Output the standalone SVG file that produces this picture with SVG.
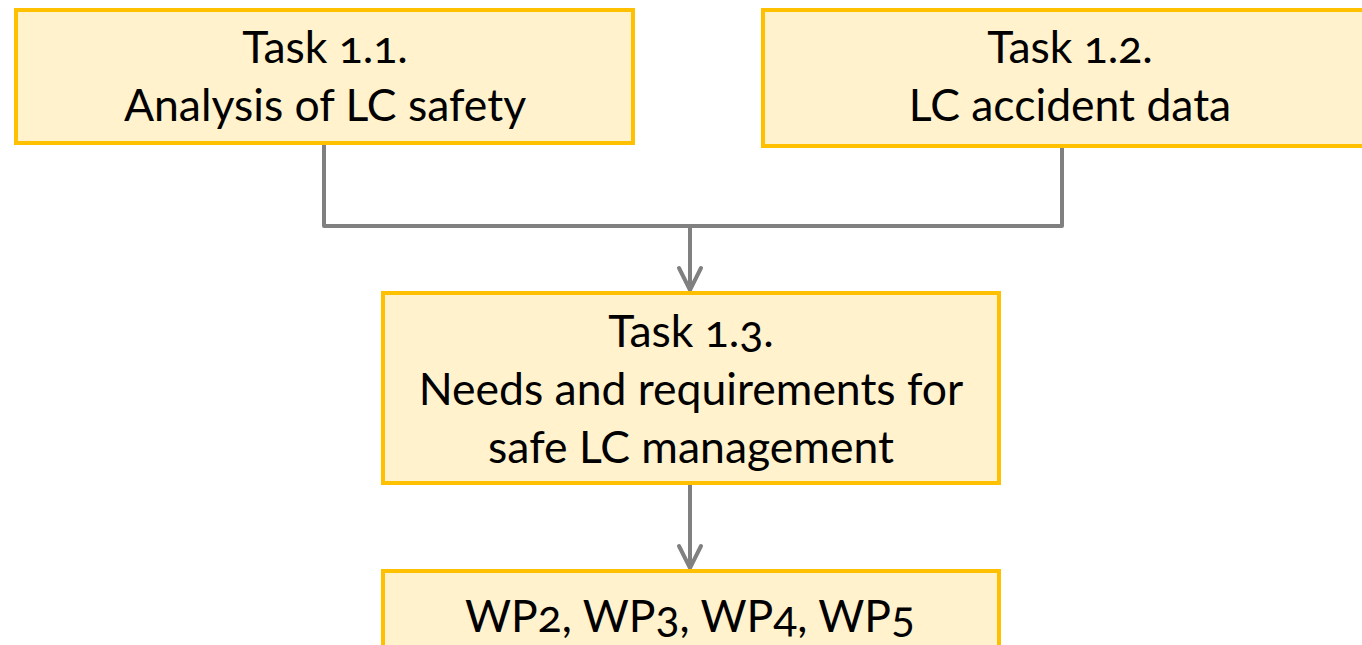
<svg xmlns="http://www.w3.org/2000/svg" width="1362" height="645" viewBox="0 0 1362 645">
<style>
.box{fill:#FFF2CC;stroke:#FFC000;stroke-width:4}
.t{font-family:Lato,"Open Sans","Liberation Sans",sans-serif;font-size:44.5px;fill:#000;text-anchor:middle;font-feature-settings:"onum"}
.c{fill:none;stroke:#808080;stroke-width:4;stroke-linejoin:round}
.ah{fill:none;stroke:#808080;stroke-width:4;stroke-linecap:round;stroke-linejoin:miter}
</style>
<rect width="1362" height="645" fill="#fff"/>
<g id="connectors">
<path class="c" d="M324,143 V226 H1062 V146"/>
<path class="c" d="M690,226 V289"/>
<path class="ah" d="M679,268 L690,290 L701,268"/>
<path class="c" d="M690,483 V567"/>
<path class="ah" d="M679,546 L690,568 L701,546"/>
</g>
<g id="task11">
<rect class="box" x="16" y="10" width="617" height="133"/>
<text class="t" x="325" y="63">Task 1.1.</text>
<text class="t" x="325" y="121">Analysis of LC safety</text>
</g>
<g id="task12">
<rect class="box" x="763" y="10" width="614" height="136"/>
<text class="t" x="1070" y="63">Task 1.2.</text>
<text class="t" x="1070" y="121">LC accident data</text>
</g>
<g id="task13">
<rect class="box" x="383" y="293" width="616" height="190"/>
<text class="t" x="691" y="347">Task 1.3.</text>
<text class="t" x="691" y="405">Needs and requirements for</text>
<text class="t" x="691" y="463">safe LC management</text>
</g>
<g id="wp">
<rect class="box" x="383" y="571" width="616" height="90"/>
<text class="t" x="690" y="632">WP2, WP3, WP4, WP5</text>
</g>
</svg>
